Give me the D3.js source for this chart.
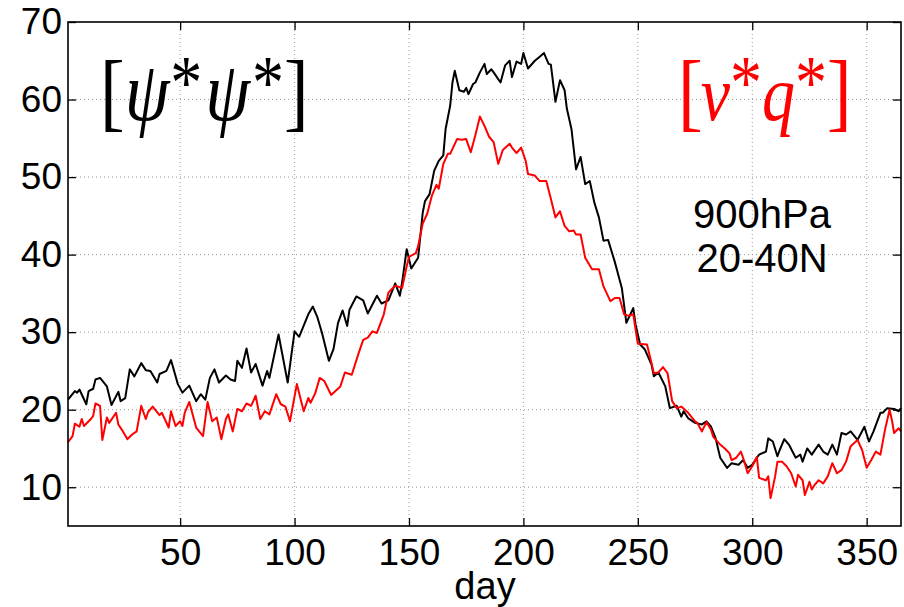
<!DOCTYPE html>
<html>
<head>
<meta charset="utf-8">
<script src="https://cdn.jsdelivr.net/npm/d3@7"></script>
<style>
  html, body { margin: 0; padding: 0; background: #fff; }
  svg { display: block; }
  .tick text { font-family: "Liberation Sans", Arial, sans-serif; }
</style>
</head>
<body>
<div id="chart"></div>
<script>
'use strict';

// Seasonal cycle of [psi* psi*] (black) and [v* q*] (red), 900 hPa, 20-40N.
// Values at irregular day steps.

const psiDays = [1, 4, 5, 6, 9, 10, 12, 13, 15, 18, 20, 23, 24, 26, 28, 30, 33, 35, 37, 40,
	41, 44, 46, 49, 51, 54, 57, 59, 61, 63, 65, 67, 70, 72, 74, 75, 77, 79, 81, 83,
	86, 88, 89, 91, 93, 97, 100, 102, 106, 108, 110, 112, 115, 117, 119, 121, 123, 124, 127, 130,
	132, 136, 138, 141, 144, 146, 147, 149, 151, 154, 156, 157, 159, 161, 163, 165, 166, 168, 169, 170,
	172, 174, 175, 176, 178, 179, 181, 183, 184, 186, 187, 190, 192, 194, 195, 197, 199, 200, 202, 205,
	207, 209, 211, 212, 214, 216, 218, 219, 221, 223, 225, 227, 229, 231, 233, 235, 237, 240, 242, 243,
	245, 248, 249, 251, 253, 256, 257, 259, 262, 264, 267, 269, 270, 272, 275, 278, 280, 282, 284, 286,
	289, 291, 294, 296, 298, 300, 302, 303, 306, 307, 309, 311, 312, 314, 316, 319, 321, 322, 324, 326,
	329, 331, 333, 335, 337, 339, 341, 343, 346, 349, 351, 353, 356, 357, 359, 362, 364, 365];
const psiValues = [21.3, 22.4, 22.2, 22.6, 20.7, 22.4, 22.7, 23.9, 24.1, 23.0, 20.6, 22.3, 21.1, 21.5, 25.2, 24.3, 26.0, 25.1, 25.0, 23.5,
	24.6, 25.0, 26.4, 23.3, 22.2, 23.1, 21.1, 22.0, 21.3, 24.1, 25.2, 23.5, 24.4, 23.9, 23.7, 26.3, 25.4, 27.9, 24.8, 25.9,
	23.1, 25.0, 24.1, 26.9, 29.7, 23.5, 30.1, 29.4, 32.3, 33.3, 31.9, 29.9, 26.3, 27.8, 31.2, 32.8, 30.8, 32.9, 34.6, 34.1,
	32.4, 34.7, 33.7, 34.1, 36.3, 34.7, 36.4, 40.7, 38.2, 39.6, 45.4, 46.9, 47.8, 50.8, 52.1, 52.8, 56.2, 59.2, 62.2, 63.7,
	61.2, 61.0, 61.5, 60.7, 62.0, 62.2, 63.5, 64.6, 63.3, 63.9, 63.5, 62.2, 64.4, 65.0, 62.9, 64.9, 64.6, 66.0, 64.0, 65.0,
	65.5, 66.0, 64.6, 64.5, 59.7, 62.5, 61.2, 58.8, 56.2, 51.0, 52.6, 49.1, 49.5, 46.7, 44.8, 41.8, 41.9, 39.0, 36.8, 35.7,
	31.2, 33.1, 31.0, 28.4, 27.8, 25.8, 24.3, 24.8, 23.0, 20.2, 20.5, 19.1, 19.8, 18.9, 18.3, 18.1, 18.5, 17.8, 16.3, 13.8,
	12.5, 13.1, 12.9, 13.5, 12.5, 12.9, 13.8, 14.2, 14.6, 16.3, 15.9, 14.0, 14.8, 16.2, 15.5, 13.8, 14.2, 13.3, 15.0, 14.2,
	15.5, 14.6, 14.2, 15.5, 14.2, 17.0, 16.8, 17.2, 16.1, 17.8, 15.9, 17.2, 19.6, 19.6, 20.2, 20.1, 19.8, 20.2];

const vqDays = [1, 3, 4, 6, 7, 8, 11, 12, 13, 15, 16, 18, 19, 22, 23, 25, 27, 29, 31, 33,
	35, 36, 38, 41, 42, 45, 46, 48, 50, 51, 52, 54, 57, 60, 62, 64, 66, 68, 70, 71,
	73, 75, 77, 79, 81, 83, 85, 87, 89, 92, 94, 96, 98, 101, 104, 106, 107, 109, 111, 113,
	116, 120, 122, 125, 128, 130, 132, 134, 136, 139, 141, 142, 144, 147, 149, 150, 153, 154, 156, 158,
	160, 162, 163, 165, 167, 168, 171, 173, 175, 177, 179, 181, 183, 185, 187, 189, 191, 194, 195, 197,
	199, 201, 202, 205, 207, 210, 212, 214, 216, 218, 220, 222, 223, 225, 227, 230, 233, 235, 238, 240,
	242, 244, 246, 248, 250, 254, 256, 257, 259, 261, 263, 265, 267, 269, 272, 275, 276, 278, 280, 282,
	283, 286, 288, 290, 291, 293, 295, 296, 298, 300, 302, 303, 306, 307, 308, 310, 311, 313, 315, 317,
	319, 320, 322, 323, 325, 326, 327, 329, 331, 333, 335, 337, 339, 341, 343, 346, 348, 350, 352, 354,
	356, 358, 360, 361, 362, 364, 365];
const vqValues = [15.8, 16.6, 18.2, 17.8, 18.8, 17.9, 18.8, 19.2, 20.8, 20.5, 16.1, 19.0, 18.3, 19.6, 18.1, 17.2, 16.2, 16.8, 17.2, 20.5,
	18.8, 19.7, 20.4, 19.3, 19.6, 17.7, 19.8, 17.9, 18.5, 17.9, 19.6, 21.0, 17.7, 16.6, 21.0, 18.5, 19.0, 16.2, 18.8, 19.4,
	17.2, 20.1, 19.8, 20.8, 20.5, 21.8, 18.8, 19.8, 19.4, 22.0, 20.7, 20.4, 18.5, 23.3, 19.8, 21.5, 20.9, 22.1, 24.1, 23.7,
	21.9, 23.0, 24.8, 24.5, 27.3, 29.0, 29.3, 30.1, 29.9, 32.3, 35.1, 35.4, 36.0, 35.7, 38.5, 39.7, 40.2, 41.1, 44.0, 45.3,
	47.6, 49.0, 48.5, 51.7, 53.0, 53.0, 54.9, 54.8, 54.9, 53.2, 55.4, 57.8, 56.6, 55.2, 54.5, 51.7, 53.5, 54.3, 53.8, 53.1,
	53.8, 52.1, 50.4, 50.2, 49.5, 49.5, 47.2, 44.8, 45.6, 43.7, 43.0, 43.1, 42.6, 42.6, 39.6, 38.1, 38.1, 35.9, 34.0, 34.4,
	34.4, 32.3, 32.1, 32.3, 28.5, 28.4, 26.0, 24.7, 24.8, 25.5, 24.7, 21.1, 20.2, 20.4, 19.6, 18.5, 18.3, 17.2, 18.4, 17.4,
	16.5, 15.5, 15.0, 14.4, 13.5, 13.8, 14.6, 13.8, 11.8, 12.7, 13.9, 11.2, 10.9, 11.4, 8.6, 11.4, 13.3, 13.3, 12.7, 11.8,
	10.1, 11.6, 10.9, 9.0, 10.7, 9.7, 10.2, 10.9, 10.5, 11.4, 13.1, 11.8, 12.2, 13.3, 15.3, 16.1, 14.8, 12.5, 13.5, 14.6,
	14.2, 17.4, 20.0, 18.7, 17.0, 17.6, 17.2];

const xTicks = [50, 100, 150, 200, 250, 300, 350];
const yTicks = [10, 20, 30, 40, 50, 60, 70];
const xLabel = 'day';
const levelLines = ['900hPa', '20-40N'];

// ----------------------- layout ---------------------------------------

const W = 904, H = 607;
const M = { top: 22, right: 3, bottom: 81, left: 68 };
const PW = W - M.left - M.right;
const PH = H - M.top - M.bottom;
const TICK = 8;
const SANS = '"Liberation Sans", Arial, Helvetica, sans-serif';
const SERIF = '"Liberation Serif", "Times New Roman", serif';

const svg = d3.select('#chart').append('svg')
	.attr('width', W)
	.attr('height', H);

const g = svg.append('g').attr('transform', `translate(${M.left},${M.top})`);

const x = d3.scaleLinear().domain([1, 365]).range([0, PW]);
const y = d3.scaleLinear().domain([5, 70]).range([PH, 0]);

// ----------------------- grid -----------------------------------------

g.append('g').selectAll('line').data(xTicks).join('line')
	.attr('x1', (d) => x(d)).attr('x2', (d) => x(d))
	.attr('y1', 0).attr('y2', PH)
	.attr('stroke', '#999').attr('stroke-width', 1)
	.attr('stroke-dasharray', '1,3');

g.append('g').selectAll('line').data(yTicks.filter((d) => d < 70)).join('line')
	.attr('x1', 0).attr('x2', PW)
	.attr('y1', (d) => y(d)).attr('y2', (d) => y(d))
	.attr('stroke', '#999').attr('stroke-width', 1)
	.attr('stroke-dasharray', '1,3');

// ----------------------- series ---------------------------------------

const psi = psiDays.map((d, i) => ({ day: d, v: psiValues[i] }));
const vq = vqDays.map((d, i) => ({ day: d, v: vqValues[i] }));

const line = d3.line().x((d) => x(d.day)).y((d) => y(d.v));

g.append('path').datum(psi)
	.attr('d', line)
	.attr('fill', 'none').attr('stroke', '#000').attr('stroke-width', 2)
	.attr('stroke-linejoin', 'round');

g.append('path').datum(vq)
	.attr('d', line)
	.attr('fill', 'none').attr('stroke', '#ff0000').attr('stroke-width', 2)
	.attr('stroke-linejoin', 'round');

// ----------------------- axes (ticks point inward, MATLAB style) -------

function styleAxis(sel) {
	sel.select('.domain').remove();
	sel.selectAll('.tick line').attr('stroke', '#000').attr('stroke-width', 1.3);
	sel.selectAll('.tick text')
		.attr('fill', '#000')
		.style('font-family', SANS)
		.style('font-size', '37px');
}

g.append('g')
	.attr('transform', `translate(0,${PH})`)
	.call(d3.axisBottom(x).tickValues(xTicks).tickSize(-TICK).tickSizeOuter(0).tickPadding(13))
	.call(styleAxis);

g.append('g')
	.call(d3.axisTop(x).tickValues(xTicks).tickSize(-TICK).tickSizeOuter(0).tickFormat(''))
	.call(styleAxis);

g.append('g')
	.call(d3.axisLeft(y).tickValues(yTicks).tickSize(-TICK).tickSizeOuter(0).tickPadding(6))
	.call(styleAxis);

g.append('g')
	.attr('transform', `translate(${PW},0)`)
	.call(d3.axisRight(y).tickValues(yTicks).tickSize(-TICK).tickSizeOuter(0).tickFormat(''))
	.call(styleAxis);

g.append('rect')
	.attr('width', PW).attr('height', PH)
	.attr('fill', 'none').attr('stroke', '#000').attr('stroke-width', 1.6);

svg.append('text')
	.attr('x', 485).attr('y', 599)
	.attr('text-anchor', 'middle')
	.style('font-family', SANS).style('font-size', '38px')
	.text(xLabel);

// ----------------------- annotations ----------------------------------
// TeX-like labels: one flowing text per label, stretched a little
// vertically so the glyphs get the tall Computer Modern proportions.

const STRETCH = 1.18;

function mathLabel(x0, baseline, colour, parts) {
	const t = svg.append('text')
		.attr('transform', `translate(${x0},${baseline}) scale(1,${STRETCH})`)
		.attr('fill', colour)
		.style('font-family', SERIF);
	for (const p of parts) {
		const s = t.append('tspan')
			.style('font-size', `${p.size}px`)
			.text(p.s);
		if (p.italic) s.style('font-style', 'italic');
		if (p.dx) s.attr('dx', p.dx);
		if (p.dy) s.attr('dy', p.dy);
	}
}

const BR = 74, SYM = 72, STAR = 64, RAISE = 10;

mathLabel(100, 120, '#000', [
	{ s: '[', size: BR },
	{ s: 'ψ', size: SYM, italic: true },
	{ s: '*', size: STAR, dx: 1, dy: -RAISE },
	{ s: 'ψ', size: SYM, italic: true, dx: 3, dy: RAISE },
	{ s: '*', size: STAR, dx: 2, dy: -RAISE },
	{ s: ']', size: BR, dy: RAISE }
]);

mathLabel(678, 120, '#ff0000', [
	{ s: '[', size: BR },
	{ s: 'v', size: 66, italic: true, dx: -2 },
	{ s: '*', size: STAR, dy: -RAISE },
	{ s: 'q', size: 66, italic: true, dy: RAISE },
	{ s: '*', size: STAR, dy: -RAISE },
	{ s: ']', size: BR, dy: RAISE }
]);

svg.append('g').selectAll('text').data(levelLines).join('text')
	.attr('x', 762)
	.attr('y', (d, i) => 228 + i * 44)
	.attr('text-anchor', 'middle')
	.style('font-family', SANS).style('font-size', '40px')
	.text((d) => d);
</script>
</body>
</html>
